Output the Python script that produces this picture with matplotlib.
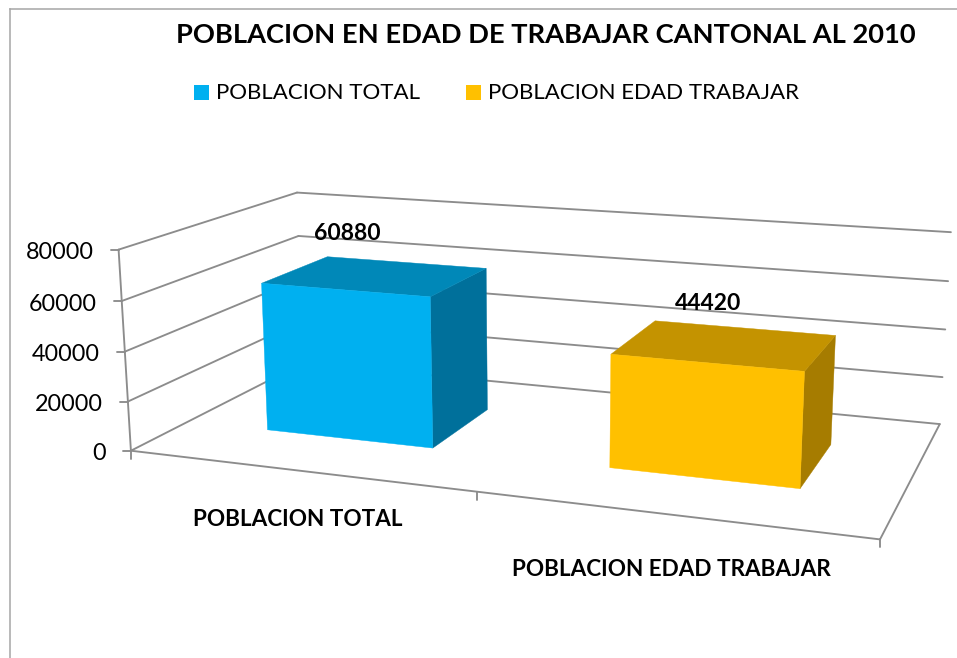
import numpy as np
import matplotlib
matplotlib.use("Agg")
import matplotlib.pyplot as plt
from matplotlib.patches import Polygon, Rectangle

title = "POBLACION EN EDAD DE TRABAJAR CANTONAL AL 2010"
categories = ["POBLACION TOTAL", "POBLACION EDAD TRABAJAR"]
values = [60880, 44420]
ticks = [0, 20000, 40000, 60000, 80000]
bar_colors = ["#00B0F0", "#FFC000"]
top_colors = ["#0088B8", "#C49300"]
side_colors = ["#00709B", "#A67C00"]
GRID = "#8C8C8C"
VMAX = 80000
plt.rcParams['font.family'] = ['Lato', 'DejaVu Sans']

W, H = 957, 658
fig = plt.figure(figsize=(W/100, H/100), dpi=100)
ax = fig.add_axes([0, 0, 1, 1])
ax.set_xlim(0, W); ax.set_ylim(H, 0); ax.axis("off")

# Camera calibration of the 3-D box: (category axis, depth, value fraction) -> pixel
cal = [((0,0,0),(131,450.5)),((0,0,.25),(128,401)),((0,0,.5),(124.5,351.5)),((0,0,.75),(122,301)),((0,0,1),(118.5,250)),
       ((0,1,0),(303,364)),((0,1,.75),(298.5,235.5)),((0,1,1),(297,192.5)),
       ((1,0,0),(880,540)),((1,1,0),(939.5,423.5)),((1,1,.25),(943,377)),((1,1,.5),(945,329)),((1,1,.75),(948,281.5)),((1,1,1),(951,232.5))]
A, b = [], []
for (u,d,v),(x,y) in cal:
    A.append([u,d,v,1,0,0,0,0,-x*u,-x*d,-x*v]); b.append(x)
    A.append([0,0,0,0,u,d,v,1,-y*u,-y*d,-y*v]); b.append(y)
p = np.linalg.lstsq(np.array(A,float), np.array(b,float), rcond=None)[0]
P = np.append(p,1).reshape(3,4)

def proj(u, d, val):
    q = P @ np.array([u, d, val/VMAX, 1.0])
    return q[0]/q[2], q[1]/q[2]

def seg(a, b, **kw):
    ax.plot(*zip(a, b), color=GRID, lw=1.35, solid_capstyle="round", zorder=kw.get("zorder", 1))

# walls and gridlines
for t in ticks:
    seg(proj(0,0,t), proj(0,1,t))
    seg(proj(0,1,t), proj(1,1,t))
    x, y = proj(0,0,t)
    seg((x-8, y), (x, y))
    ax.text(x-25, y+3, str(t), ha="right", va="center", fontsize=16.8, color="black")
seg(proj(0,0,0), proj(0,0,VMAX))
seg(proj(0,0,0), proj(1,0,0))
seg(proj(1,0,0), proj(1,1,0))
for u in (0, .5, 1):
    x, y = proj(u,0,0)
    seg((x, y), (x, y+8))

# bars
n = len(categories)
for i, val in enumerate(values):
    u0, u1 = (i+.25)/n, (i+.75)/n
    d0, d1 = .3, .7
    fc = lambda pts, c: ax.add_patch(Polygon(pts, closed=True, fc=c, ec=c, lw=.3, zorder=3))
    fc([proj(u1,d0,0),proj(u1,d1,0),proj(u1,d1,val),proj(u1,d0,val)], side_colors[i])
    fc([proj(u0,d0,val),proj(u1,d0,val),proj(u1,d1,val),proj(u0,d1,val)], top_colors[i])
    fc([proj(u0,d0,0),proj(u1,d0,0),proj(u1,d0,val),proj(u0,d0,val)], bar_colors[i])

label_xy = [(347, 234), (708.5, 303)]
for xy, val in zip(label_xy, values):
    ax.text(xy[0], xy[1], str(val), ha="center", va="center", fontsize=16.5, fontweight="bold", zorder=5)

cat_xy = [(298, 519.5), (671, 569.5)]
for xy, c in zip(cat_xy, categories):
    ax.text(xy[0], xy[1], c, ha="center", va="center", fontsize=16.2, fontweight="bold")

ax.text(546, 35, title, ha="center", va="center", fontsize=19.6, fontweight="bold")

# legend
leg_x = [(194, 216), (466, 488)]
for (bx, tx), c, name in zip(leg_x, bar_colors, categories):
    ax.add_patch(Rectangle((bx, 85), 15, 15, fc=c, ec="none"))
    ax.text(tx, 93, name, ha="left", va="center", fontsize=16)

# chart frame
ax.plot([10, 10], [H, 8.5], color="#A6A6A6", lw=1.1, solid_joinstyle="miter")
ax.plot([10, W], [8.5, 8.5], color="#A6A6A6", lw=1.1)

fig.savefig("out.png", dpi=100)
